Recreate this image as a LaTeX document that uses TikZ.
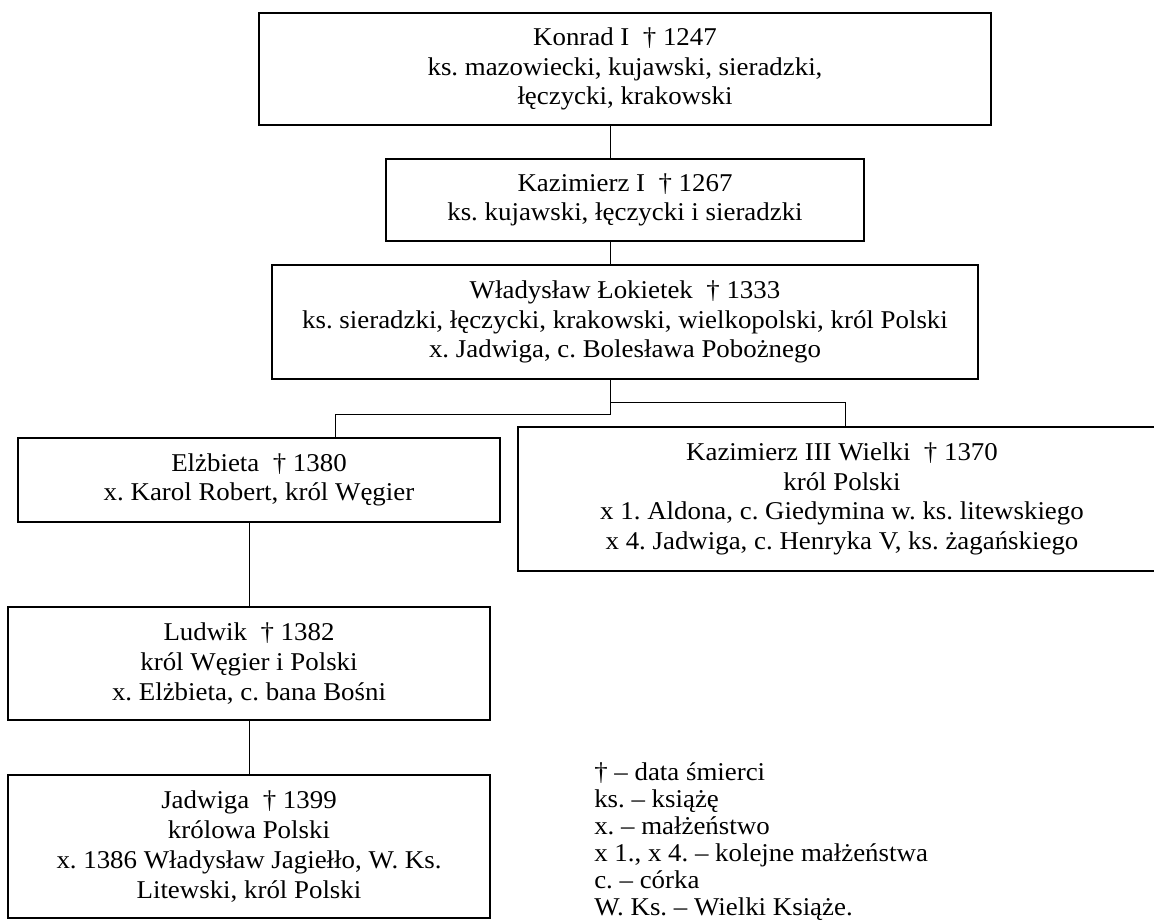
\documentclass[tikz,border=0pt]{standalone}
\usepackage{fontspec}
\setmainfont{Liberation Serif}[FakeStretch=1.05]
\usetikzlibrary{calc}

\begin{document}
\frenchspacing
\begin{tikzpicture}[x=0.75pt,y=0.75pt,yscale=-1,xscale=1,
	osoba/.style={draw, line width=1pt, inner sep=0pt, align=center, font=\fontsize{19.2}{22.3}\selectfont},
	linia/.style={line width=0.75pt}]
	\useasboundingbox (0,0) rectangle (1154,922);

	\node [osoba, minimum width=549pt, minimum height=84pt] (konrad) at (625,69) {Konrad I~ † 1247\\ ks. mazowiecki, kujawski, sieradzki,\\ łęczycki, krakowski};
	\node [osoba, minimum width=358.5pt, minimum height=61.5pt] (kaz1) at (625,200) {Kazimierz I~ † 1267\\ ks. kujawski, łęczycki i sieradzki};
	\node [osoba, minimum width=529.5pt, minimum height=85.5pt] (wlad) at (625,322) {Władysław Łokietek~ † 1333\\ ks. sieradzki, łęczycki, krakowski, wielkopolski, król Polski\\ x. Jadwiga, c. Bolesława Pobożnego};

	\node [osoba, minimum width=361.5pt, minimum height=63pt] (elz) at (259,480) {Elżbieta~ † 1380\\ x. Karol Robert, król Węgier};
	\node [osoba, minimum width=486pt, minimum height=108pt] (kaz3) at (842,499) {Kazimierz III Wielki~ † 1370\\ król Polski\\ x 1. Aldona, c. Giedymina w. ks. litewskiego\\ x 4. Jadwiga, c. Henryka V, ks. żagańskiego};

	\node [osoba, minimum width=361.5pt, minimum height=84.75pt] (ludwik) at (249,663.5) {Ludwik~ † 1382\\ król Węgier i Polski\\ x. Elżbieta, c. bana Bośni};
	\node [osoba, minimum width=361.5pt, minimum height=107.25pt] (jadwiga) at (249,846.5) {Jadwiga~ † 1399\\ królowa Polski\\ x. 1386 Władysław Jagiełło, W. Ks.\\ Litewski, król Polski};

	% objasnienia skrotow
	\node [anchor=base west, inner sep=0pt, align=left, font=\fontsize{19.2}{20.25}\selectfont] (skroty) at (594,915) {† – data śmierci\\ ks. – książę\\ x. – małżeństwo\\ x 1., x 4. – kolejne małżeństwa\\ c. – córka\\ W. Ks. – Wielki Książe.};

	\coordinate (pion) at (610,0);
	\draw [linia] (pion |- konrad.south) -- (pion |- kaz1.north);
	\draw [linia] (pion |- kaz1.south) -- (pion |- wlad.north);

	\coordinate (rozwidl) at (610,414);
	\coordinate (prawo) at (610,402);
	\draw [linia] (pion |- wlad.south) -- (rozwidl) -| (335,0 |- elz.north);
	\draw [linia] (prawo) -| (845,0 |- kaz3.north);

	\draw [linia] (249,0 |- elz.south) -- (ludwik.north);
	\draw [linia] (ludwik.south) -- (jadwiga.north);
\end{tikzpicture}
\end{document}
